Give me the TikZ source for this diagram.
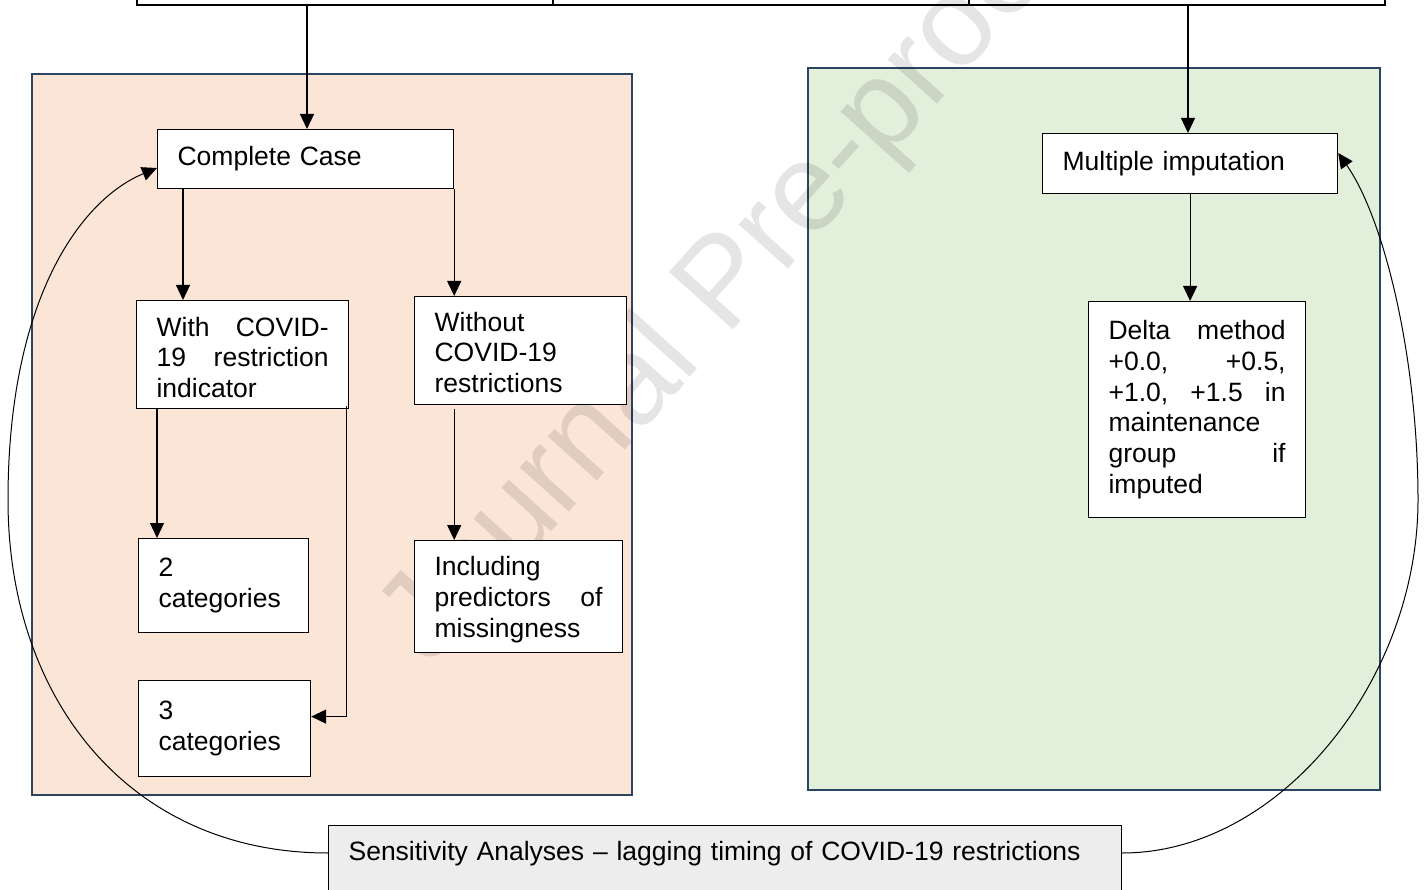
\documentclass[tikz,border=0pt]{standalone}
\usepackage{fontspec}
\setmainfont{Liberation Sans}
\usetikzlibrary{arrows.meta}
\definecolor{peach}{HTML}{FBE5D6}
\definecolor{mint}{HTML}{E2EFDA}
\definecolor{navy}{HTML}{2B4462}
\definecolor{sensgray}{HTML}{EDEDED}
\tikzset{
  box/.style={draw=black, line width=1.2pt, fill=white, anchor=north west,
    inner xsep=20pt, inner ysep=0pt, align=left,
    font=\fontsize{26.5}{30.7}\selectfont},
  panel/.style={draw=navy, line width=2.5pt},
  conn/.style={draw=black, line width=1.2pt, -{Triangle[length=15pt,width=14pt]}},
  curveconn/.style={draw=black, line width=1pt, -{Triangle[length=15pt,width=14pt]}},
}
\begin{document}
\begin{tikzpicture}[x=1pt,y=-1pt]
\clip (0,0) rectangle (1424,890);
\fill[white] (0,0) rectangle (1424,890);
% top table (cut off)
\draw[line width=2pt] (137,-2) -- (137,5) -- (1385,5) -- (1385,-2);
\draw[line width=1.2pt] (553,-2) -- (553,5) (969,-2) -- (969,5);
\coordinate (t1) at (307,5);
\coordinate (t2) at (1188,5);
% panels
\draw[panel, fill=peach] (32,74) rectangle (632,795);
\draw[panel, fill=mint] (808,68) rectangle (1380,790);
% watermark
\node[rotate=48, anchor=base west, inner sep=0pt, opacity=0.1, font=\fontsize{125}{125}\selectfont] (wm) at (429,668) {Journal Pre-proof};
% boxes
\node[box, text width=256pt, minimum height=59pt] (cc) at (157,129) {Complete Case};
\node[box, text width=172pt, minimum height=108pt] (with) at (136,300) {\rule{0pt}{25pt}With\hfill COVID-\\19\hfill restriction\\indicator};
\node[box, text width=172pt, minimum height=108pt] (wo) at (414,296) {\rule{0pt}{23pt}Without\\COVID-19\\restrictions};
\node[box, text width=130pt, minimum height=94pt] (cat2) at (138,538) {2\\categories};
\node[box, text width=168pt, minimum height=112pt] (incl) at (414,540) {\rule{0pt}{25pt}Including\\predictors\hfill of\\missingness};
\node[box, text width=132pt, minimum height=96pt] (cat3) at (138,680) {3\\categories};
\node[box, text width=255pt, minimum height=60pt] (mi) at (1042,133) {Multiple imputation};
\node[box, text width=177pt, minimum height=216pt] (delta) at (1088,301) {Delta\hfill method\\+0.0,\hfill +0.5,\\+1.0,\hfill +1.5\hfill in\\maintenance\\group\hfill if\\imputed};
\node[box, fill=sensgray, text width=753pt, text height=35pt, text depth=40pt] (sens) at (328,825) {Sensitivity Analyses -- lagging timing of COVID-19 restrictions};
% connectors
\draw[conn] (t1) -- (t1 |- cc.north);
\draw[conn] (t2) -- (t2 |- mi.north);
\draw[conn] ([xshift=26pt]cc.south west) -- ([xshift=26pt]cc.south west |- with.north);
\draw[conn] (cc.south east) -- (cc.south east |- wo.north);
\draw[conn] ([xshift=21pt]with.south west) -- ([xshift=21pt]with.south west |- cat2.north);
\draw[conn] ([xshift=-3pt,yshift=3pt]with.south east) |- ([yshift=12pt]cat3.east);
\draw[conn] ([yshift=-4pt]wo.south -| cc.south east) -- (cc.south east |- incl.north);
\draw[conn] (mi.south) -- (mi.south |- delta.north);
% sensitivity curves
\draw[curveconn] ([yshift=-28pt]sens.north west) .. controls (130,853) and (8,700) .. (8,500)
   .. controls (8,300) and (80,200) .. ([yshift=-39pt]cc.north west);
\draw[curveconn] ([yshift=-28pt]sens.north east) .. controls (1280,853) and (1418,680) .. (1418,500)
   .. controls (1418,360) and (1385,220) .. ([yshift=-20pt]mi.north east);
\end{tikzpicture}
\end{document}
